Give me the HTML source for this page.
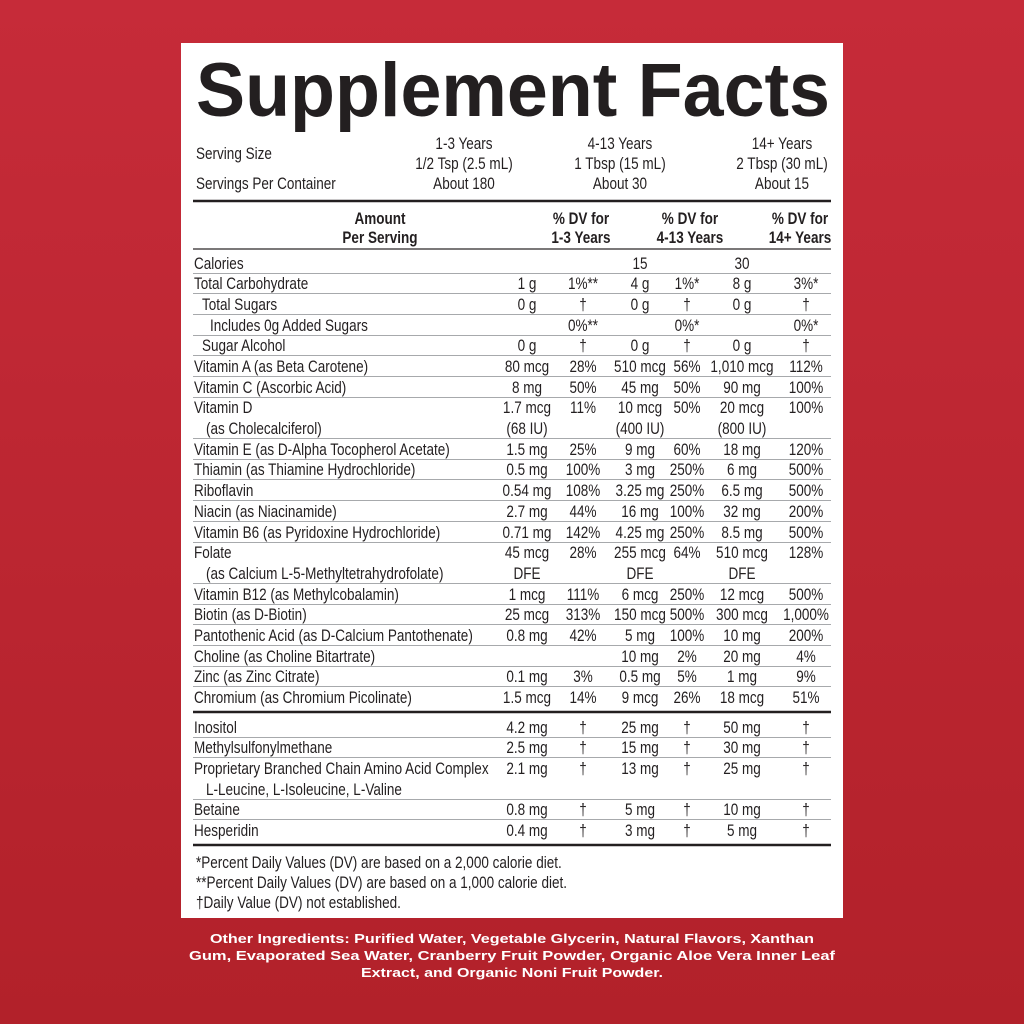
<!DOCTYPE html>
<html><head><meta charset="utf-8"><style>
html,body{margin:0;padding:0;width:1024px;height:1024px;overflow:hidden;background:linear-gradient(#c62b39,#b2212a);}
svg{display:block}
text{font-family:"Liberation Sans",sans-serif;fill:#231f20;font-size:16.5px}
.b{font-weight:bold}
</style></head><body>
<svg id="s" width="1024" height="1024" xmlns="http://www.w3.org/2000/svg">
<rect x="181" y="43" width="662" height="875" fill="#fff"/>
<text x="196" y="116" textLength="634" lengthAdjust="spacingAndGlyphs" style="font-family:'Liberation Sans',sans-serif;font-size:76px;font-weight:bold">Supplement Facts</text>
</svg>
<script>
var s=document.getElementById('s'),NS='http://www.w3.org/2000/svg',K=0.82;
function T(x,y,t,a,cls,extra){var e=document.createElementNS(NS,'text');
 if(extra){for(var k in extra)e.setAttribute(k,extra[k]);e.setAttribute('x',x);}
 else{e.setAttribute('x',x/K);e.setAttribute('transform','scale('+K+',1)');}
 e.setAttribute('y',y);if(a)e.setAttribute('text-anchor',a);if(cls)e.setAttribute('class',cls);e.textContent=t;s.appendChild(e);return e;}
function L(y,w,c,x1,x2){var e=document.createElementNS(NS,'rect');e.setAttribute('x',x1||193);e.setAttribute('y',y-w/2);e.setAttribute('width',(x2||831)-(x1||193));e.setAttribute('height',w);e.setAttribute('fill',c);s.appendChild(e);}
T(196,159,'Serving Size');T(196,189,'Servings Per Container');
[[464,'1-3 Years','1/2 Tsp (2.5 mL)','About 180'],[620,'4-13 Years','1 Tbsp (15 mL)','About 30'],[782,'14+ Years','2 Tbsp (30 mL)','About 15']].forEach(function(c){T(c[0],149,c[1],'middle');T(c[0],169,c[2],'middle');T(c[0],189,c[3],'middle');});
L(201,2.5,'#231f20');
T(380,224,'Amount','middle','b');T(380,243,'Per Serving','middle','b');
[[581,'1-3 Years'],[690,'4-13 Years'],[800,'14+ Years']].forEach(function(c){T(c[0],224,'% DV for','middle','b');T(c[0],243,c[1],'middle','b');});
L(249,1.2,'#231f20');
var C=[527,583,640,687,742,806];
var rows=[
[263,'Calories',['','','15','','30','']],
[283,'Total Carbohydrate',['1 g','1%**','4 g','1%*','8 g','3%*']],
[304,'Total Sugars',['0 g','†','0 g','†','0 g','†'],8],
[325,'Includes 0g Added Sugars',['','0%**','','0%*','','0%*'],16],
[345,'Sugar Alcohol',['0 g','†','0 g','†','0 g','†'],8],
[366,'Vitamin A (as Beta Carotene)',['80 mcg','28%','510 mcg','56%','1,010 mcg','112%']],
[387,'Vitamin C (Ascorbic Acid)',['8 mg','50%','45 mg','50%','90 mg','100%']],
[407,'Vitamin D',['1.7 mcg','11%','10 mcg','50%','20 mcg','100%'],0,'(as Cholecalciferol)',['(68 IU)','(400 IU)','(800 IU)']],
[449,'Vitamin E (as D-Alpha Tocopherol Acetate)',['1.5 mg','25%','9 mg','60%','18 mg','120%']],
[469,'Thiamin (as Thiamine Hydrochloride)',['0.5 mg','100%','3 mg','250%','6 mg','500%']],
[490,'Riboflavin',['0.54 mg','108%','3.25 mg','250%','6.5 mg','500%']],
[511,'Niacin (as Niacinamide)',['2.7 mg','44%','16 mg','100%','32 mg','200%']],
[532,'Vitamin B6 (as Pyridoxine Hydrochloride)',['0.71 mg','142%','4.25 mg','250%','8.5 mg','500%']],
[552,'Folate',['45 mcg','28%','255 mcg','64%','510 mcg','128%'],0,'(as Calcium L-5-Methyltetrahydrofolate)',['DFE','DFE','DFE']],
[594,'Vitamin B12 (as Methylcobalamin)',['1 mcg','111%','6 mcg','250%','12 mcg','500%']],
[614,'Biotin (as D-Biotin)',['25 mcg','313%','150 mcg','500%','300 mcg','1,000%']],
[635,'Pantothenic Acid (as D-Calcium Pantothenate)',['0.8 mg','42%','5 mg','100%','10 mg','200%']],
[656,'Choline (as Choline Bitartrate)',['','','10 mg','2%','20 mg','4%']],
[676,'Zinc (as Zinc Citrate)',['0.1 mg','3%','0.5 mg','5%','1 mg','9%']],
[697,'Chromium (as Chromium Picolinate)',['1.5 mcg','14%','9 mcg','26%','18 mcg','51%']],
[727,'Inositol',['4.2 mg','†','25 mg','†','50 mg','†']],
[747,'Methylsulfonylmethane',['2.5 mg','†','15 mg','†','30 mg','†']],
[768,'Proprietary Branched Chain Amino Acid Complex',['2.1 mg','†','13 mg','†','25 mg','†'],0,'L-Leucine, L-Isoleucine, L-Valine',null],
[809,'Betaine',['0.8 mg','†','5 mg','†','10 mg','†']],
[830,'Hesperidin',['0.4 mg','†','3 mg','†','5 mg','†']]
];
rows.forEach(function(r,i){
 var y=r[0];T(194+(r[3]||0),y+6,r[1]);
 r[2].forEach(function(v,j){if(v)T(C[j],y+6,v,'middle');});
 var last=y;
 if(r[4]){last=y+21;T(206,last+6,r[4]);if(r[5])r[5].forEach(function(v,j){T(C[j*2],last+6,v,'middle');});}
 if(i!=19&&i!=24&&i<rows.length-1)L(last+10.5,1,'#a7a9ac');
});
L(712,2.5,'#231f20');L(845,2.5,'#231f20');
T(196,868,'*Percent Daily Values (DV) are based on a 2,000 calorie diet.');
T(196,888,'**Percent Daily Values (DV) are based on a 1,000 calorie diet.');
T(196,908,'†Daily Value (DV) not established.');
var o=[[943,'Other Ingredients: Purified Water, Vegetable Glycerin, Natural Flavors, Xanthan',604],[960,'Gum, Evaporated Sea Water, Cranberry Fruit Powder, Organic Aloe Vera Inner Leaf',646],[977,'Extract, and Organic Noni Fruit Powder.',302]];
o.forEach(function(l){T(512,l[0],l[1],'middle','b',{textLength:l[2],lengthAdjust:'spacingAndGlyphs',style:"fill:#fff;font-family:'Liberation Sans',sans-serif;font-size:13px"});});
</script>
</body></html>
